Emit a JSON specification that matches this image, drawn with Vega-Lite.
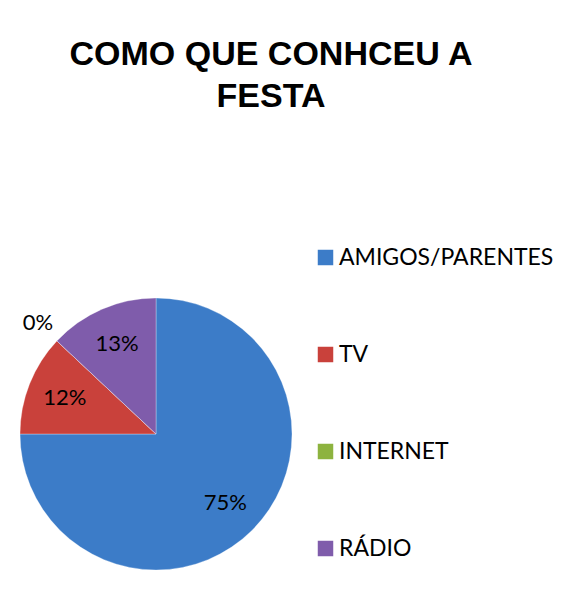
{
  "$schema": "https://vega.github.io/schema/vega-lite/v6.json",
  "width": 272,
  "height": 272,
  "autosize": {"type": "none"},
  "padding": {"left": 20, "top": 298, "right": 279, "bottom": 45},
  "background": "white",
  "title": {
    "text": ["COMO QUE CONHCEU A", "FESTA"],
    "font": "Liberation Sans",
    "fontSize": 34,
    "fontWeight": "bold",
    "color": "black",
    "anchor": "middle",
    "frame": "group",
    "dx": 115,
    "offset": 132,
    "lineHeight": 42
  },
  "data": {
    "values": [
      {"fonte": "AMIGOS/PARENTES", "pct": 0.75, "ordem": 1},
      {"fonte": "TV", "pct": 0.12, "ordem": 2},
      {"fonte": "INTERNET", "pct": 0, "ordem": 3},
      {"fonte": "RÁDIO", "pct": 0.13, "ordem": 4}
    ]
  },
  "encoding": {
    "theta": {"field": "pct", "type": "quantitative", "stack": true},
    "order": {"field": "ordem", "type": "quantitative"}
  },
  "layer": [
    {
      "mark": {"type": "arc", "outerRadius": 136, "stroke": "#ffffff", "strokeWidth": 0.5, "strokeOpacity": 0.6},
      "encoding": {
        "color": {
          "field": "fonte",
          "type": "nominal",
          "sort": ["AMIGOS/PARENTES", "TV", "INTERNET", "RÁDIO"],
          "scale": {
            "domain": ["AMIGOS/PARENTES", "TV", "INTERNET", "RÁDIO"],
            "range": ["#3C7CC8", "#C9413B", "#8DB33F", "#7F5CAB"]
          },
          "legend": {
            "title": null,
            "orient": "none",
            "legendX": 294,
            "legendY": -52,
            "padding": 0,
            "symbolType": "square",
            "symbolSize": 240,
            "symbolStrokeWidth": 0,
            "labelFont": "Lato",
            "labelFontSize": 23,
            "labelColor": "black",
            "labelOffset": 2,
            "rowPadding": 73,
            "labelLimit": 300
          }
        }
      }
    },
    {
      "mark": {"type": "text", "font": "Lato", "fontSize": 22, "color": "black", "radius": 98},
      "encoding": {
        "text": {"condition": {"test": "datum.pct == 0", "value": ""}, "field": "pct", "type": "quantitative", "format": ".0%"}
      }
    },
    {
      "mark": {"type": "text", "font": "Lato", "fontSize": 22, "color": "black", "radius": 162},
      "encoding": {
        "text": {"condition": {"test": "datum.pct > 0", "value": ""}, "field": "pct", "type": "quantitative", "format": ".0%"}
      }
    }
  ]
}
